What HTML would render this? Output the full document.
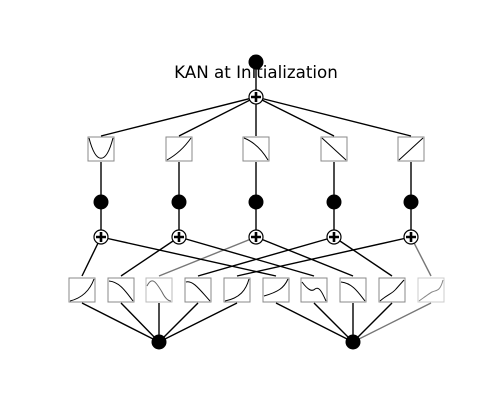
<!DOCTYPE html>
<html><head><style>
html,body{margin:0;padding:0;background:#fff;width:500px;height:400px;overflow:hidden}
</style></head><body>
<svg width="500" height="400" viewBox="0 0 500 400" xmlns="http://www.w3.org/2000/svg">
<g stroke="#000" stroke-width="1.4" fill="none">
<line x1="256" y1="62" x2="256" y2="97"/>
<line x1="256" y1="97" x2="101" y2="136"/>
<line x1="256" y1="97" x2="179" y2="136"/>
<line x1="256" y1="97" x2="256" y2="136"/>
<line x1="256" y1="97" x2="334" y2="136"/>
<line x1="256" y1="97" x2="411" y2="136"/>
<line x1="101" y1="162" x2="101" y2="237"/>
<line x1="179" y1="162" x2="179" y2="237"/>
<line x1="256" y1="162" x2="256" y2="237"/>
<line x1="334" y1="162" x2="334" y2="237"/>
<line x1="411" y1="162" x2="411" y2="237"/>
<line x1="101" y1="237" x2="82" y2="276"/>
<line x1="179" y1="237" x2="121" y2="276"/>
<line x1="256" y1="237" x2="159" y2="276" stroke="#777"/>
<line x1="334" y1="237" x2="198" y2="276"/>
<line x1="411" y1="237" x2="237" y2="276"/>
<line x1="101" y1="237" x2="276" y2="276"/>
<line x1="179" y1="237" x2="314" y2="276"/>
<line x1="256" y1="237" x2="353" y2="276"/>
<line x1="334" y1="237" x2="392" y2="276"/>
<line x1="411" y1="237" x2="431" y2="276" stroke="#777"/>
<line x1="82" y1="303" x2="159" y2="342"/>
<line x1="121" y1="303" x2="159" y2="342"/>
<line x1="159" y1="303" x2="159" y2="342"/>
<line x1="198" y1="303" x2="159" y2="342"/>
<line x1="237" y1="303" x2="159" y2="342"/>
<line x1="276" y1="303" x2="353" y2="342"/>
<line x1="314" y1="303" x2="353" y2="342"/>
<line x1="353" y1="303" x2="353" y2="342"/>
<line x1="392" y1="303" x2="353" y2="342"/>
<line x1="431" y1="303" x2="353" y2="342" stroke="#777"/>
</g>
<g fill="#fff" stroke="#888" stroke-width="1">
<rect x="88" y="137" width="26" height="24"/>
<rect x="166" y="137" width="26" height="24"/>
<rect x="243" y="137" width="26" height="24"/>
<rect x="321" y="137" width="26" height="24"/>
<rect x="398" y="137" width="26" height="24"/>
<rect x="69" y="278" width="26" height="24"/>
<rect x="108" y="278" width="26" height="24"/>
<rect x="146" y="278" width="26" height="24" stroke="#bbb"/>
<rect x="185" y="278" width="26" height="24"/>
<rect x="224" y="278" width="26" height="24"/>
<rect x="263" y="278" width="26" height="24"/>
<rect x="301" y="278" width="26" height="24"/>
<rect x="340" y="278" width="26" height="24"/>
<rect x="379" y="278" width="26" height="24"/>
<rect x="418" y="278" width="26" height="24" stroke="#ccc"/>
</g>
<g fill="none" stroke="#000" stroke-width="1">
<path d="M89 138 C96 165,106 165,113 138"/>
<path d="M167 160 C176 155,184 148,191 138"/>
<path d="M244 138 C254 142,262 150,268 160"/>
<path d="M322 138 L346 160"/>
<path d="M399 160 L423 138"/>
<path d="M70 301 C82 298,90 290,94 279"/>
<path d="M109 281 C120 282,126 292,133 301"/>
<path d="M147 286 C152 276,156 282,162 292 C165 298,168 301,171 301" stroke="#666"/>
<path d="M186 282 C193 280,200 290,210 301"/>
<path d="M225 301 C240 298,246 290,249 279"/>
<path d="M264 296 C278 292,284 288,288 279"/>
<path d="M302 282 C308 290,312 292,315 289 C319 286,322 292,326 301"/>
<path d="M341 282 C352 283,358 292,365 301"/>
<path d="M380 301 C388 294,392 294,396 289 L404 280"/>
<path d="M419 301 C426 296,430 293,432 292 C436 290,440 292,443 280" stroke="#888"/>
</g>
<g fill="#000">
<circle cx="256" cy="62" r="7.5"/>
<circle cx="101" cy="202" r="7.5"/>
<circle cx="179" cy="202" r="7.5"/>
<circle cx="256" cy="202" r="7.5"/>
<circle cx="334" cy="202" r="7.5"/>
<circle cx="411" cy="202" r="7.5"/>
<circle cx="159" cy="342" r="7.5"/>
<circle cx="353" cy="342" r="7.5"/>
</g>
<text x="256" y="78" font-family="DejaVu Sans, sans-serif" font-size="16.7" text-anchor="middle" fill="#000">KAN at Initialization</text>
<g stroke="#000" fill="#fff">
<g stroke-width="1.2">
<circle cx="256" cy="97" r="7"/>
<circle cx="101" cy="237" r="7"/>
<circle cx="179" cy="237" r="7"/>
<circle cx="256" cy="237" r="7"/>
<circle cx="334" cy="237" r="7"/>
<circle cx="411" cy="237" r="7"/>
</g>
<g stroke-width="2.6">
<path d="M251 97h10M256 92v10"/>
<path d="M96 237h10M101 232v10"/>
<path d="M174 237h10M179 232v10"/>
<path d="M251 237h10M256 232v10"/>
<path d="M329 237h10M334 232v10"/>
<path d="M406 237h10M411 232v10"/>
</g>
</g>
</svg>
</body></html>
